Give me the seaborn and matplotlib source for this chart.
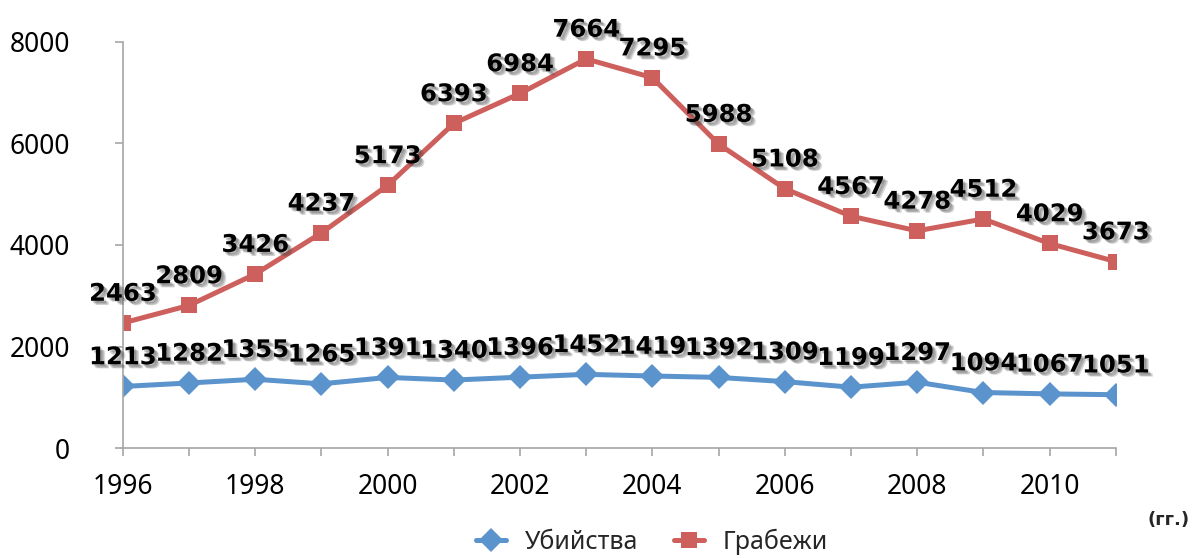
import matplotlib
matplotlib.use("Agg")
import matplotlib.pyplot as plt
import matplotlib.patheffects as pe
from matplotlib.lines import Line2D
import seaborn as sns
import pandas as pd

years = list(range(1996, 2012))
murders = [1213, 1282, 1355, 1265, 1391, 1340, 1396, 1452, 1419, 1392, 1309, 1199, 1297, 1094, 1067, 1051]
robberies = [2463, 2809, 3426, 4237, 5173, 6393, 6984, 7664, 7295, 5988, 5108, 4567, 4278, 4512, 4029, 3673]
series_names = ["Убийства", "Грабежи"]
x_ticks = [1996, 1998, 2000, 2002, 2004, 2006, 2008, 2010]
y_ticks = [0, 2000, 4000, 6000, 8000]

blue = "#5B93CC"
red = "#CD605C"

sns.set_theme(style="white")
plt.rcParams['font.family'] = ['Noto Sans', 'DejaVu Sans']

df = pd.DataFrame({
    "year": years * 2,
    "value": murders + robberies,
    "series": [series_names[0]] * len(years) + [series_names[1]] * len(years),
})

fig = plt.figure(figsize=(11.92, 5.58), dpi=100)
ax = fig.add_axes([0.103, 0.197, 0.833, 0.728])

sns.lineplot(data=df, x="year", y="value", hue="series", style="series",
             markers={series_names[0]: "D", series_names[1]: "s"}, dashes=False,
             palette={series_names[0]: blue, series_names[1]: red},
             linewidth=3.6, markersize=12, markeredgewidth=0, ax=ax, legend=False)

shadow = [
    pe.SimplePatchShadow(offset=(1.5, -1.5), shadow_rgbFace="#444444", alpha=0.25),
    pe.SimplePatchShadow(offset=(2.5, -2.5), shadow_rgbFace="#444444", alpha=0.25),
    pe.SimplePatchShadow(offset=(3.5, -3.0), shadow_rgbFace="#444444", alpha=0.2),
    pe.Normal(),
]
for vals in (murders, robberies):
    for xv, v in zip(years, vals):
        ax.annotate(str(v), (xv, v), xytext=(0, 16), textcoords="offset points",
                    ha="center", va="baseline", fontsize=17.5, fontweight="bold",
                    family="DejaVu Sans", color="black", path_effects=shadow,
                    annotation_clip=False)

ax.set_xlim(1996, 2011)
ax.set_ylim(0, 8000)
ax.set_xticks(years)
ax.set_xticklabels([str(y) if y in x_ticks else "" for y in years])
ax.set_yticks(y_ticks)
ax.set_yticklabels([str(t) for t in y_ticks])
ax.set_xlabel("")
ax.set_ylabel("")

for s in ["top", "right"]:
    ax.spines[s].set_visible(False)
for s in ["left", "bottom"]:
    ax.spines[s].set_color("#A6A6A6")
    ax.spines[s].set_linewidth(1.2)
ax.tick_params(axis="both", direction="out", length=6, width=1.2, color="#A6A6A6",
               labelsize=19, labelcolor="black")
ax.tick_params(axis="x", pad=12)
ax.tick_params(axis="y", pad=32)
ax.yaxis.set_tick_params(left=True)
ax.xaxis.set_tick_params(bottom=True)

handles = [Line2D([0], [0], color=blue, marker="D", lw=3.6, markersize=12, markeredgewidth=0),
           Line2D([0], [0], color=red, marker="s", lw=3.6, markersize=12, markeredgewidth=0)]
fig.legend(handles, series_names, loc="lower center", bbox_to_anchor=(0.547, -0.035),
           ncol=2, frameon=False, fontsize=18, handlelength=1.2, handletextpad=0.75,
           columnspacing=1.45)
fig.text(0.998, 0.068, "(гг.)", ha="right", va="center", fontsize=13, fontweight="bold",
         family="DejaVu Sans")

fig.savefig("out.png", dpi=100)
